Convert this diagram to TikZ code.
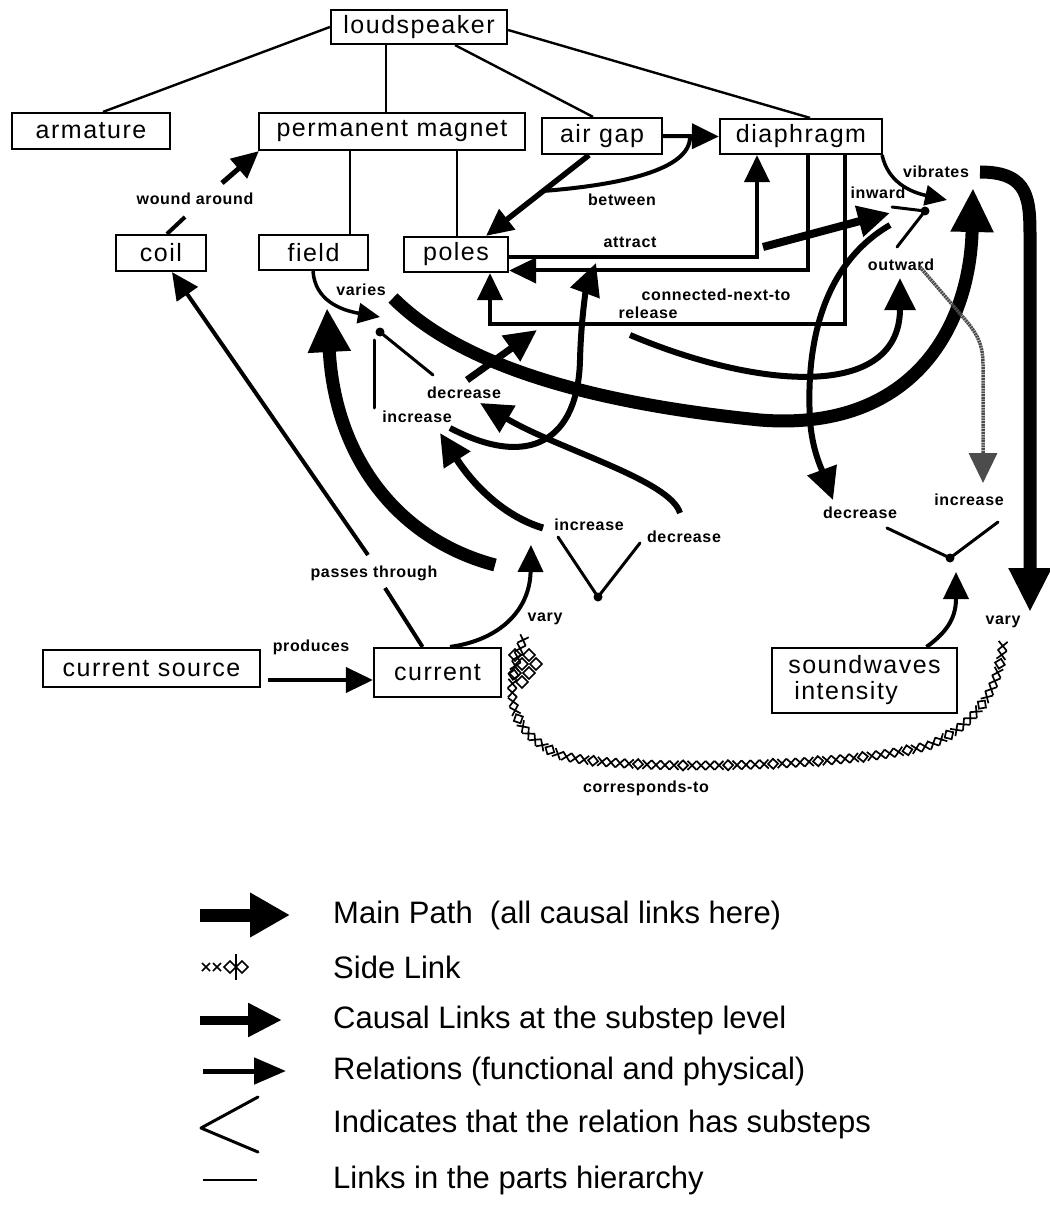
\documentclass[tikz,border=0pt]{standalone}
\usepackage{fontspec}
\setmainfont{Liberation Sans}
\newfontfamily\boxfont[LetterSpace=6]{Liberation Sans}
\newfontfamily\lblfont[LetterSpace=4]{Liberation Sans}
\usetikzlibrary{arrows.meta,decorations.markings}

% one mark of the side-link chain: mostly crosses, now and then a diamond
\newcommand\sidemark{%
  \pgfmathtruncatemacro\sidemarkidx{mod(\pgfkeysvalueof{/pgf/decoration/mark info/sequence number},5)}%
  \ifnum\sidemarkidx=0
    \draw[line width=1.7pt] (-5pt,0)--(0,5pt)--(5pt,0)--(0,-5pt)--cycle;
  \else
    \draw[line width=1.7pt] (-4.5pt,-4.5pt)--(4.5pt,4.5pt) (-4.5pt,4.5pt)--(4.5pt,-4.5pt);
  \fi}

\tikzset{
  part/.style={draw,line width=2.2pt,inner sep=0pt,font=\boxfont\fontsize{25}{29}\selectfont},
  lbl/.style={font=\lblfont\bfseries\fontsize{16}{18}\selectfont,inner sep=1pt},
  legtext/.style={anchor=west,inner sep=0pt,font=\fontsize{31}{36}\selectfont},
  hier/.style={line width=2.4pt},
  relline/.style={line width=4pt},
  rel/.style={line width=4pt,-{Triangle[length=27pt,width=25pt]}},
  sub/.style={line width=7pt,-{Triangle[length=32pt,width=30pt]}},
  mainp/.style={line width=13pt,-{Triangle[length=44pt,width=40pt]}},
  grayl/.style={draw=black!70,line width=3.5pt,dash pattern=on 2pt off 0.7pt,
    -{Triangle[length=30pt,width=28pt,fill=black!70]}},
  vline/.style={line width=3pt,line cap=round},
  vdot/.style={circle,fill,inner sep=0pt,minimum size=9pt},
  sidelink/.style={postaction={decorate},decoration={markings,
    mark=between positions 0 and 1 step 9pt with {\sidemark}}},
  diam/.style={line width=1.7pt}
}

\begin{document}
\begin{tikzpicture}[x=1pt,y=-1pt]
\useasboundingbox (0,0) rectangle (1049,1214);

% ---------- parts ----------
\node[part,minimum width=176pt,minimum height=34pt] (ls)  at (419,27)    {loudspeaker};
\node[part,minimum width=158pt,minimum height=36pt] (arm) at (91,131)    {armature};
\node[part,minimum width=266pt,minimum height=37pt] (pm)  at (392,131.5) {permanent magnet};
\node[part,minimum width=120pt,minimum height=36pt] (ag)  at (602,136)   {air gap};
\node[part,minimum width=162pt,minimum height=35pt] (dia) at (801,136.5) {diaphragm};
\node[part,minimum width=90pt,minimum height=36pt]  (coil) at (161,253)  {coil};
\node[part,minimum width=109pt,minimum height=35pt] (fld) at (313.5,252.5) {field};
\node[part,minimum width=104pt,minimum height=35pt] (pol) at (456,254.5) {poles};
\node[part,minimum width=217pt,minimum height=37pt] (cs)  at (151.5,668.5) {current source};
\node[part,minimum width=127pt,minimum height=49pt] (cur) at (437.5,672.5) {current};
\node[part,minimum width=185pt,minimum height=65pt,align=left] (sw) at (864.5,680.5)
  {soundwaves\\[-3pt]\hspace{6pt}intensity};

% ---------- labels ----------
\node[lbl] (lwound)   at (195,199) {wound around};
\node[lbl] (lvaries)  at (361,290) {varies};
\node[lbl] (lbetween) at (622,200) {between};
\node[lbl] (lattract) at (630,242) {attract};
\node[lbl] (lconn)    at (716,295) {connected-next-to};
\node[lbl] (lrelease) at (648,313) {release};
\node[lbl] (lvib)     at (936,172) {vibrates};
\node[lbl] (linw)     at (878,193) {inward};
\node[lbl] (loutw)    at (901,265) {outward};
\node[lbl] (ldecA)    at (464,393) {decrease};
\node[lbl] (lincA)    at (417,417) {increase};
\node[lbl] (lincB)    at (589,525) {increase};
\node[lbl] (ldecB)    at (684,537) {decrease};
\node[lbl] (ldecC)    at (860,513) {decrease};
\node[lbl] (lincC)    at (969,500) {increase};
\node[lbl] (lpass)    at (374,573) {passes through};
\node[lbl] (lprod)    at (311,647) {produces};
\node[lbl] (lvaryA)   at (545,619) {vary};
\node[lbl] (lvaryB)   at (1003,622) {vary};
\node[lbl] (lcorr)    at (646,788) {corresponds-to};

% ---------- points where links begin or end ----------
\coordinate (wa1) at (185,217);   \coordinate (wa2) at (222,183);
\coordinate (pt1) at (385,588);   \coordinate (pt2) at (368,555);
\coordinate (cvtip) at (531,545); \coordinate (swtip) at (956,572);
\coordinate (vartip) at (380,317); \coordinate (vibtip) at (947,200);
\coordinate (btw1) at (543,191);  \coordinate (btw2) at (690,137);
% substep dots
\coordinate (vA) at (380,332); \coordinate (vB) at (925,211);
\coordinate (vC) at (598,597); \coordinate (vD) at (950,558);
% substep causal links
\coordinate (sa0) at (543,528); \coordinate (sa1) at (440,433);
\coordinate (sb0) at (680,513); \coordinate (sb1) at (480,403);
\coordinate (sc0) at (467,380); \coordinate (sc1) at (537,330);
\coordinate (sd0) at (450,428); \coordinate (sd1) at (596,263);
\coordinate (se0) at (630,335); \coordinate (se1) at (900,278);
\coordinate (sf0) at (763,247); \coordinate (sf1) at (890,213);
\coordinate (sg0) at (890,225); \coordinate (sg1) at (833,500);
\coordinate (sh0) at (920,267); \coordinate (sh1) at (983,483);
% main path
\coordinate (m1a) at (495,565); \coordinate (m1b) at (327,308);
\coordinate (m2a) at (393,298); \coordinate (m2b) at (973,188);
\coordinate (m3a) at (980,172); \coordinate (m3b) at (1030,612);
% side link ends
\coordinate (sl0) at (523,640); \coordinate (sl1) at (1003,643);

% ---------- parts hierarchy ----------
\draw[hier] (ls.west) -- ([xshift=12pt]arm.north);
\draw[hier] ([xshift=-33pt]ls.south) -- ([xshift=-6pt]pm.north);
\draw[hier] ([xshift=36pt]ls.south) -- ([xshift=-9pt]ag.north);
\draw[hier] ([yshift=-3pt]ls.east) -- ([xshift=9pt]dia.north);
\draw[hier] ([xshift=-42pt]pm.south) -- ([xshift=36.5pt]fld.north);
\draw[hier] ([xshift=65pt]pm.south) -- ([xshift=1pt]pol.north);

% ---------- main path ----------
\draw[mainp] (m1a) .. controls (400,540) and (335,460) .. (m1b);
\draw[mainp] (m2a) .. controls (450,355) and (560,400) .. (760,420)
             .. controls (910,432) and (970,330) .. (m2b);
\draw[mainp] (m3a) .. controls (1030,172) and (1030,200) .. (1030,240) -- (m3b);

% ---------- relations ----------
\draw[relline] ([xshift=6pt]coil.north) -- (wa1);
\draw[rel,line width=5pt] (wa2) -- ([xshift=1pt]pm.south west);
\draw[relline] ([xshift=-15pt]cur.north) -- (pt1);
\draw[rel] (pt2) -- ([xshift=11pt]coil.south);
\draw[rel] ([xshift=7pt,yshift=-11.5pt]cs.east) -- ([yshift=-7.5pt]cur.west);
\draw[rel] ([xshift=12.5pt]cur.north) .. controls (500,640) and (530,610) .. (cvtip);
\draw[rel] ([xshift=62pt]sw.north) .. controls (950,630) and (956,615) .. (swtip);
\draw[rel,line width=3.5pt,-{Triangle[length=22pt,width=20pt]}] ([xshift=-0.5pt]fld.south)
   .. controls (315,300) and (340,310) .. (vartip);
\draw[rel] (ag.east) -- (dia.west);
\draw[rel,line width=5.5pt] ([xshift=-13pt]ag.south) -- ([xshift=30pt]pol.north);
\draw[relline] (btw1) .. controls (620,185) and (690,170) .. (btw2);
\draw[rel] ([yshift=-2.5pt]pol.east) -| ([xshift=-44pt]dia.south);
\draw[rel] ([xshift=7pt]dia.south) |- ([yshift=-16pt]pol.east);
\draw[rel] ([xshift=44pt]dia.south) -- ++(0,169) -| ([xshift=34pt]pol.south);
\draw[rel,line width=3.5pt,-{Triangle[length=22pt,width=20pt]}] ([xshift=-1pt]dia.south east)
   .. controls (888,182) and (910,192) .. (vibtip);

% ---------- causal links at the substep level ----------
\draw[sub] (sa0) .. controls (500,515) and (470,480) .. (sa1);
\draw[sub,line width=6pt] (sb0) .. controls (670,480) and (560,450) .. (sb1);
\draw[sub] (sc0) -- (sc1);
\draw[sub,line width=6pt] (sd0) .. controls (530,470) and (578,440) .. (580,360)
   .. controls (581,320) and (586,290) .. (sd1);
\draw[sub,line width=6pt] (se0) .. controls (760,390) and (900,400) .. (se1);
\draw[sub,line width=8pt] (sf0) -- (sf1);
\draw[sub,line width=6pt] (sg0) .. controls (830,260) and (805,330) .. (810,420)
   .. controls (812,450) and (822,470) .. (sg1);
\draw[grayl] (sh0) -- (962,316) .. controls (978,334) and (983,345) .. (983,365) -- (sh1);

% ---------- relations with substeps ----------
\node[vdot] at (vA) {}; \node[vdot] at (vB) {};
\node[vdot] at (vC) {}; \node[vdot] at (vD) {};
\draw[vline] (vA) -- (433,375);
\draw[vline] (374,340) -- (374,408);
\draw[vline] (vB) -- (892,207);
\draw[vline] (vB) -- (897,247);
\draw[vline] (vC) -- (558,537);
\draw[vline] (vC) -- (640,543);
\draw[vline] (vD) -- (887,528);
\draw[vline] (vD) -- (998,522);

% ---------- side link ----------
\path[sidelink] (sl0) .. controls (505,690) and (505,730) .. (560,755)
   .. controls (620,772) and (850,768) .. (930,745)
   .. controls (985,720) and (1000,680) .. (sl1);
\foreach \p in {(515,655),(529,655),(522,664),(536,664),(515,673),(529,673),(522,682)}
  \draw[diam] \p ++(-6pt,0) -- ++(6pt,6pt) -- ++(6pt,-6pt) -- ++(-6pt,-6pt) -- cycle;

% ---------- legend ----------
\coordinate (k1a) at (200,915);  \coordinate (k1b) at (290,915);
\coordinate (k3a) at (200,1020); \coordinate (k3b) at (282,1020);
\coordinate (k4a) at (203,1071); \coordinate (k4b) at (286,1071);
\coordinate (k6a) at (203,1180); \coordinate (k6b) at (257,1180);
\draw[line width=13pt,-{Triangle[length=40pt,width=42pt]}] (k1a) -- (k1b);
\draw[line width=1.6pt] (202,963)--(210,971) (202,971)--(210,963)
                        (213,963)--(221,971) (213,971)--(221,963);
\draw[diam] (224,967) -- (230,961) -- (236,967) -- (230,973) -- cycle;
\draw[diam] (236,967) -- (242,961) -- (248,967) -- (242,973) -- cycle;
\draw[line width=1.7pt] (236,954) -- (236,980);
\draw[line width=9pt,-{Triangle[length=34pt,width=32pt]}] (k3a) -- (k3b);
\draw[line width=5pt,-{Triangle[length=32pt,width=26pt]}] (k4a) -- (k4b);
\draw[line width=3pt,line cap=round,line join=round] (258,1097) -- (201,1128) -- (258,1152);
\draw[line width=2.2pt] (k6a) -- (k6b);
\node[legtext] (t1) at (333,915)  {Main Path~ (all causal links here)};
\node[legtext] (t2) at (333,967)  {Side Link};
\node[legtext] (t3) at (333,1020) {Causal Links at the substep level};
\node[legtext] (t4) at (333,1071) {Relations (functional and physical)};
\node[legtext] (t5) at (333,1124) {Indicates that the relation has substeps};
\node[legtext] (t6) at (333,1180) {Links in the parts hierarchy};
\end{tikzpicture}
\end{document}
